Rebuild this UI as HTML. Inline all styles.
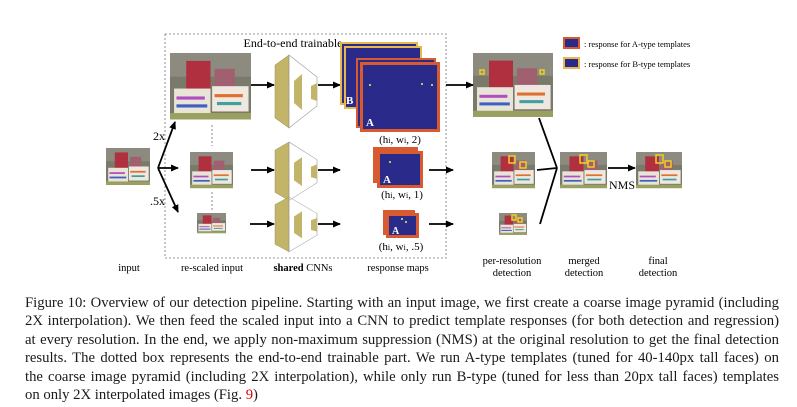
<!DOCTYPE html>
<html><head><meta charset="utf-8"><style>
body{margin:0;width:797px;height:407px;background:#fff;overflow:hidden;position:relative;font-family:"Liberation Serif",serif}
svg{position:absolute;left:0;top:0}
.cap{position:absolute;left:25px;top:294px;width:754px;font-size:14.7px;line-height:18.4px;color:#1a1a1a}
.cap div{text-align:justify;text-align-last:justify;white-space:nowrap}
.cap div.l{text-align-last:left}
</style></head><body>
<svg width="797" height="290" viewBox="0 0 797 290" font-family="Liberation Serif, serif">
<defs>
<marker id="ah" markerWidth="8" markerHeight="8" refX="7" refY="4" orient="auto" markerUnits="userSpaceOnUse"><path d="M0,0.5 L8,4 L0,7.5z" fill="#000"/></marker>
<g id="photo">
<rect x="0" y="0" width="100" height="84" fill="#7a7a6a"/>
<rect x="0" y="0" width="100" height="30" fill="#8d8a80"/>
<rect x="20" y="10" width="30" height="45" fill="#b03040"/>
<rect x="55" y="20" width="25" height="35" fill="#a06070"/>
<rect x="5" y="45" width="45" height="32" fill="#e8e4d8"/>
<rect x="52" y="42" width="45" height="32" fill="#eee8e0"/>
<rect x="8" y="55" width="35" height="4" fill="#b050c0"/>
<rect x="55" y="52" width="35" height="4" fill="#e07030"/>
<rect x="8" y="65" width="38" height="4" fill="#4060c0"/>
<rect x="58" y="62" width="30" height="4" fill="#40a0a0"/>
<rect x="0" y="76" width="100" height="8" fill="#9aa060"/>
</g>
<g id="cnn">
<polygon points="0,10 14,0 14,73 0,63" fill="#c2b56a" stroke="#9a8d50" stroke-width="0.5"/>
<polygon points="14,0 42,22 42,51 14,73" fill="none" stroke="#999" stroke-width="0.6"/>
<polygon points="19,26 27,19 27,55 19,48" fill="#c2b56a"/>
<polygon points="36,31 42,28 42,46 36,44" fill="#c2b56a"/>
</g>
</defs>
<rect x="165" y="34" width="281" height="224" fill="none" stroke="#777" stroke-width="0.8" stroke-dasharray="2,2"/>
<rect x="245" y="36" width="98" height="14" fill="#fff"/>
<text x="293" y="47" font-size="12" text-anchor="middle">End-to-end trainable</text>
<use href="#photo" transform="translate(170,53) scale(0.81,0.79)"/>
<use href="#photo" transform="translate(106,148) scale(0.44,0.44)"/>
<use href="#photo" transform="translate(190,152) scale(0.43,0.43)"/>
<use href="#photo" transform="translate(197,213) scale(0.29,0.24)"/>
<use href="#photo" transform="translate(473,53) scale(0.80,0.76)"/>
<use href="#photo" transform="translate(492,152) scale(0.43,0.43)"/>
<use href="#photo" transform="translate(499,213) scale(0.28,0.26)"/>
<use href="#photo" transform="translate(560,152) scale(0.47,0.43)"/>
<use href="#photo" transform="translate(636,152) scale(0.46,0.43)"/>
<g fill="none" stroke="#f0d020" stroke-width="1.5">
<rect x="480" y="70" width="4" height="4"/><rect x="540" y="70" width="4" height="4"/>
<rect x="509" y="156" width="6" height="7"/><rect x="520" y="162" width="6" height="6"/>
<rect x="512" y="215" width="4" height="5"/><rect x="518" y="218" width="4" height="4"/>
<rect x="580" y="155" width="7" height="8"/><rect x="588" y="161" width="6" height="6"/>
<rect x="656" y="155" width="7" height="8"/><rect x="665" y="161" width="6" height="6"/>
</g>
<line x1="212" y1="125" x2="212" y2="146" stroke="#888" stroke-dasharray="2,2"/>
<line x1="212" y1="192" x2="212" y2="210" stroke="#888" stroke-dasharray="2,2"/>
<g stroke="#000" stroke-width="1.8" fill="none" marker-end="url(#ah)">
<line x1="158" y1="168" x2="175" y2="122"/>
<line x1="158" y1="168" x2="178" y2="168"/>
<line x1="158" y1="168" x2="178" y2="212"/>
<line x1="251" y1="85" x2="274" y2="85"/>
<line x1="318" y1="85" x2="340" y2="85"/>
<line x1="446" y1="85" x2="473" y2="85"/>
<line x1="251" y1="170" x2="274" y2="170"/>
<line x1="318" y1="170" x2="340" y2="170"/>
<line x1="429" y1="170" x2="453" y2="170"/>
<line x1="250" y1="224" x2="274" y2="224"/>
<line x1="318" y1="224" x2="340" y2="224"/>
<line x1="429" y1="224" x2="453" y2="224"/>
<line x1="608" y1="168" x2="635" y2="168"/>
</g>
<g stroke="#000" stroke-width="1.8" fill="none">
<line x1="539" y1="118" x2="557" y2="168"/>
<line x1="537" y1="170" x2="557" y2="168"/>
<line x1="540" y1="224" x2="557" y2="168"/>
</g>
<text x="153" y="140" font-size="12">2x</text>
<text x="150" y="205" font-size="12">.5x</text>
<use href="#cnn" transform="translate(275,55)"/>
<use href="#cnn" transform="translate(275,142) scale(1,0.8)"/>
<use href="#cnn" transform="translate(275,197) scale(1,0.75)"/>
<rect x="340" y="42" width="78" height="63" fill="#e8b850"/><rect x="342" y="44" width="74" height="59" fill="#2a2a8a"/>
<rect x="344" y="46" width="78" height="63" fill="#e8b850"/><rect x="346" y="48" width="74" height="59" fill="#2a2a8a"/>
<rect x="356" y="58" width="80" height="70" fill="#d85a30"/><rect x="358" y="60" width="76" height="66" fill="#2a2a8a"/>
<rect x="360" y="62" width="80" height="70" fill="#d85a30"/><rect x="363" y="65" width="74" height="64" fill="#2a2a8a"/>
<text x="346" y="104" font-size="11" fill="#fff" font-weight="bold">B</text>
<text x="366" y="126" font-size="11" fill="#fff" font-weight="bold">A</text>
<circle cx="370" cy="85" r="1" fill="#ee6"/><circle cx="422" cy="84" r="1" fill="#ee6"/><circle cx="432" cy="85" r="1" fill="#ee6"/>
<rect x="373" y="147" width="45" height="36" fill="#d85a30"/>
<rect x="377" y="151" width="46" height="37" fill="#d85a30"/><rect x="380" y="154" width="40" height="31" fill="#2a2a8a"/>
<text x="383" y="183" font-size="11" fill="#fff" font-weight="bold">A</text>
<circle cx="390" cy="162" r="1" fill="#ee6"/>
<rect x="383" y="210" width="32" height="25" fill="#d85a30"/>
<rect x="386" y="213" width="33" height="25" fill="#d85a30"/><rect x="389" y="216" width="27" height="19" fill="#2a2a8a"/>
<text x="392" y="234" font-size="10" fill="#fff" font-weight="bold">A</text>
<circle cx="402" cy="219" r="1" fill="#ee6"/><circle cx="406" cy="222" r="1" fill="#ee6"/>
<text x="400" y="143" font-size="11" text-anchor="middle">(h<tspan font-size="8">i</tspan>, w<tspan font-size="8">i</tspan>, 2)</text>
<text x="402" y="198" font-size="11" text-anchor="middle">(h<tspan font-size="8">i</tspan>, w<tspan font-size="8">i</tspan>, 1)</text>
<text x="401" y="250" font-size="11" text-anchor="middle">(h<tspan font-size="8">i</tspan>, w<tspan font-size="8">i</tspan>, .5)</text>
<text x="609" y="189" font-size="12">NMS</text>
<rect x="563" y="37" width="17" height="12" fill="#d85a30"/><rect x="565" y="39" width="13" height="8" fill="#2a2a8a"/>
<rect x="563" y="57" width="17" height="12" fill="#e8b850"/><rect x="565" y="59" width="13" height="8" fill="#2a2a8a"/>
<text x="584" y="47" font-size="8.5">: response for A-type templates</text>
<text x="584" y="67" font-size="8.5">: response for B-type templates</text>
<g font-size="10.5" text-anchor="middle">
<text x="129" y="271">input</text>
<text x="212" y="271">re-scaled input</text>
<text x="303" y="271"><tspan font-weight="bold">shared</tspan> CNNs</text>
<text x="398" y="271">response maps</text>
<text x="512" y="264">per-resolution</text>
<text x="512" y="276">detection</text>
<text x="584" y="264">merged</text>
<text x="584" y="276">detection</text>
<text x="658" y="264">final</text>
<text x="658" y="276">detection</text>
</g>
</svg>
<div class="cap">
<div>Figure 10: Overview of our detection pipeline. Starting with an input image, we first create a coarse image pyramid (including</div>
<div>2X interpolation). We then feed the scaled input into a CNN to predict template responses (for both detection and regression)</div>
<div>at every resolution. In the end, we apply non-maximum suppression (NMS) at the original resolution to get the final detection</div>
<div>results. The dotted box represents the end-to-end trainable part. We run A-type templates (tuned for 40-140px tall faces) on</div>
<div>the coarse image pyramid (including 2X interpolation), while only run B-type (tuned for less than 20px tall faces) templates</div>
<div class="l">on only 2X interpolated images (Fig. <span style="color:#d00">9</span>)</div>
</div>
</body></html>
